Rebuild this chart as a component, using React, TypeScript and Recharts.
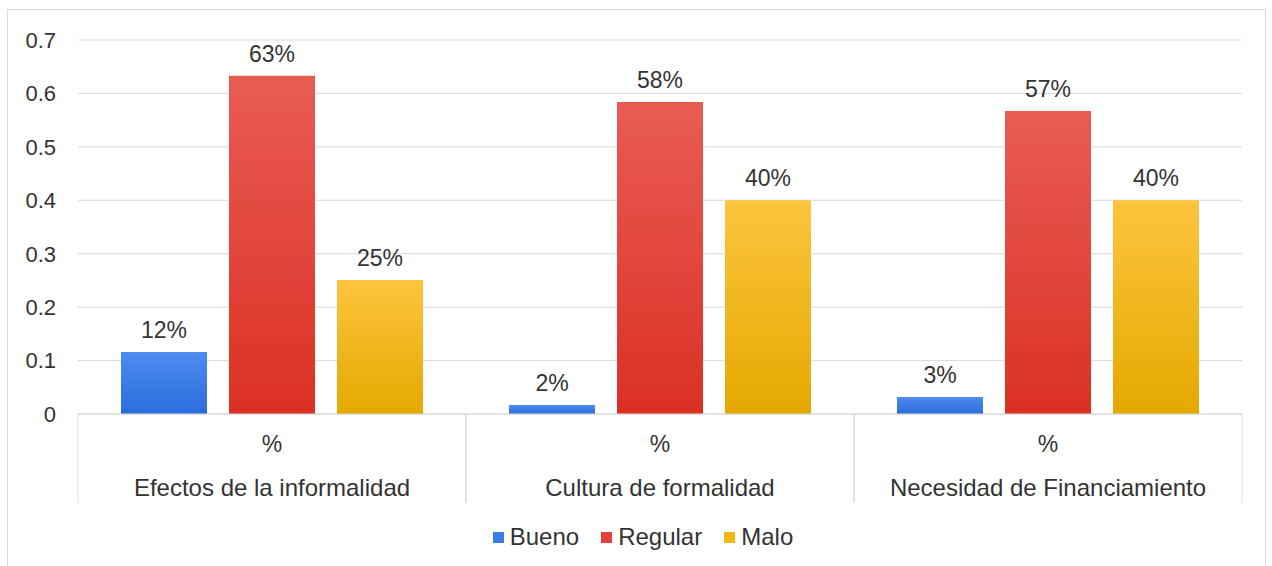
import { BarChart, Bar, XAxis, YAxis, CartesianGrid, Legend, LabelList } from 'recharts';

const CATEGORIES = ['Efectos de la informalidad', 'Cultura de formalidad', 'Necesidad de Financiamiento'];
const UNIT = '%';
const BUENO = [0.116, 0.017, 0.032];
const REGULAR = [0.633, 0.584, 0.567];
const MALO = [0.251, 0.4, 0.4];
const Y_TICKS = [0, 0.1, 0.2, 0.3, 0.4, 0.5, 0.6, 0.7];

const SERIES = [
  { key: 'bueno', name: 'Bueno', grad: 'gBueno', top: '#4d8cf0', bottom: '#2c6cdc', swatch: '#3c7ce6' },
  { key: 'regular', name: 'Regular', grad: 'gRegular', top: '#e85c54', bottom: '#dc3024', swatch: '#e2413a' },
  { key: 'malo', name: 'Malo', grad: 'gMalo', top: '#fdc43e', bottom: '#e4a900', swatch: '#f2b816' },
];

const data = CATEGORIES.map((name, i) => ({
  name,
  unit: UNIT,
  bueno: BUENO[i],
  regular: REGULAR[i],
  malo: MALO[i],
}));

const FONT = '"Liberation Sans", Arial, sans-serif';
const TEXT = '#333333';
const GRID = '#d9d9d9';
const W = 1272;
const H = 566;
const LEFT = 78;
const RIGHT = 30;
const BAND = (W - LEFT - RIGHT) / CATEGORIES.length;
const AXIS1_H = 45;
const AXIS2_H = 44;

function UnitTick({ x, y, payload }: any) {
  return (
    <text x={x} y={y + 30} textAnchor="middle" fontSize={23} fill={TEXT} fontFamily={FONT}>
      {payload.value}
    </text>
  );
}

function CategoryTick({ x, y, payload }: any) {
  // y is axis top + 8; separators run from the plot bottom to the end of this axis
  const top = y - 8 - AXIS1_H;
  const bottom = y - 8 + AXIS2_H;
  return (
    <g>
      <line x1={x - BAND / 2} x2={x - BAND / 2} y1={top} y2={bottom} stroke={GRID} />
      <line x1={x + BAND / 2} x2={x + BAND / 2} y1={top} y2={bottom} stroke={GRID} />
      <text x={x} y={y + 29} textAnchor="middle" fontSize={24} fill={TEXT} fontFamily={FONT}>
        {payload.value}
      </text>
    </g>
  );
}

function LegendContent() {
  return (
    <div
      style={{
        height: 63,
        display: 'flex',
        justifyContent: 'center',
        alignItems: 'center',
        paddingTop: 5,
        paddingLeft: 44,
        boxSizing: 'border-box',
        fontFamily: FONT,
        fontSize: 24,
        color: TEXT,
      }}
    >
      {SERIES.map((s) => (
        <div key={s.key} style={{ display: 'flex', alignItems: 'center', margin: '0 11px' }}>
          <span style={{ width: 11, height: 11, background: s.swatch, display: 'inline-block', marginRight: 6 }} />
          <span>{s.name}</span>
        </div>
      ))}
    </div>
  );
}

export default function App() {
  return (
    <div style={{ position: 'absolute', left: 0, top: 0, width: W, height: H, background: '#fff', overflow: 'hidden' }}>
      <div
        style={{
          position: 'absolute',
          left: 7,
          top: 9,
          width: 1259,
          height: 600,
          border: `1px solid ${GRID}`,
          boxSizing: 'border-box',
        }}
      />
      <BarChart
        width={W}
        height={H}
        data={data}
        margin={{ top: 40, right: RIGHT, left: 0, bottom: 0 }}
        barCategoryGap={43}
        barGap={22}
        style={{ position: 'absolute', left: 0, top: 0 }}
      >
        <defs>
          {SERIES.map((s) => (
            <linearGradient key={s.grad} id={s.grad} x1="0" y1="0" x2="0" y2="1">
              <stop offset="0%" stopColor={s.top} />
              <stop offset="100%" stopColor={s.bottom} />
            </linearGradient>
          ))}
        </defs>
        <CartesianGrid stroke={GRID} vertical={false} />
        <YAxis
          width={LEFT}
          domain={[0, 0.7]}
          ticks={Y_TICKS}
          axisLine={false}
          tickLine={false}
          tickMargin={16}
          tick={{ fontSize: 22, fill: TEXT, fontFamily: FONT }}
        />
        <XAxis
          xAxisId="a"
          dataKey="unit"
          height={AXIS1_H}
          axisLine={{ stroke: GRID }}
          tickLine={false}
          tick={<UnitTick />}
          interval={0}
        />
        <XAxis
          xAxisId="b"
          dataKey="name"
          height={AXIS2_H}
          axisLine={false}
          tickLine={false}
          tick={<CategoryTick />}
          interval={0}
        />
        <Legend verticalAlign="bottom" content={<LegendContent />} />
        {SERIES.map((s) => (
          <Bar key={s.key} xAxisId="a" dataKey={s.key} name={s.name} fill={`url(#${s.grad})`} isAnimationActive={false}>
            <LabelList
              dataKey={s.key}
              position="top"
              offset={14}
              formatter={(v: any) => `${Math.round(Number(v) * 100)}%`}
              style={{ fontSize: 23, fill: TEXT, fontFamily: FONT }}
            />
          </Bar>
        ))}
      </BarChart>
    </div>
  );
}
